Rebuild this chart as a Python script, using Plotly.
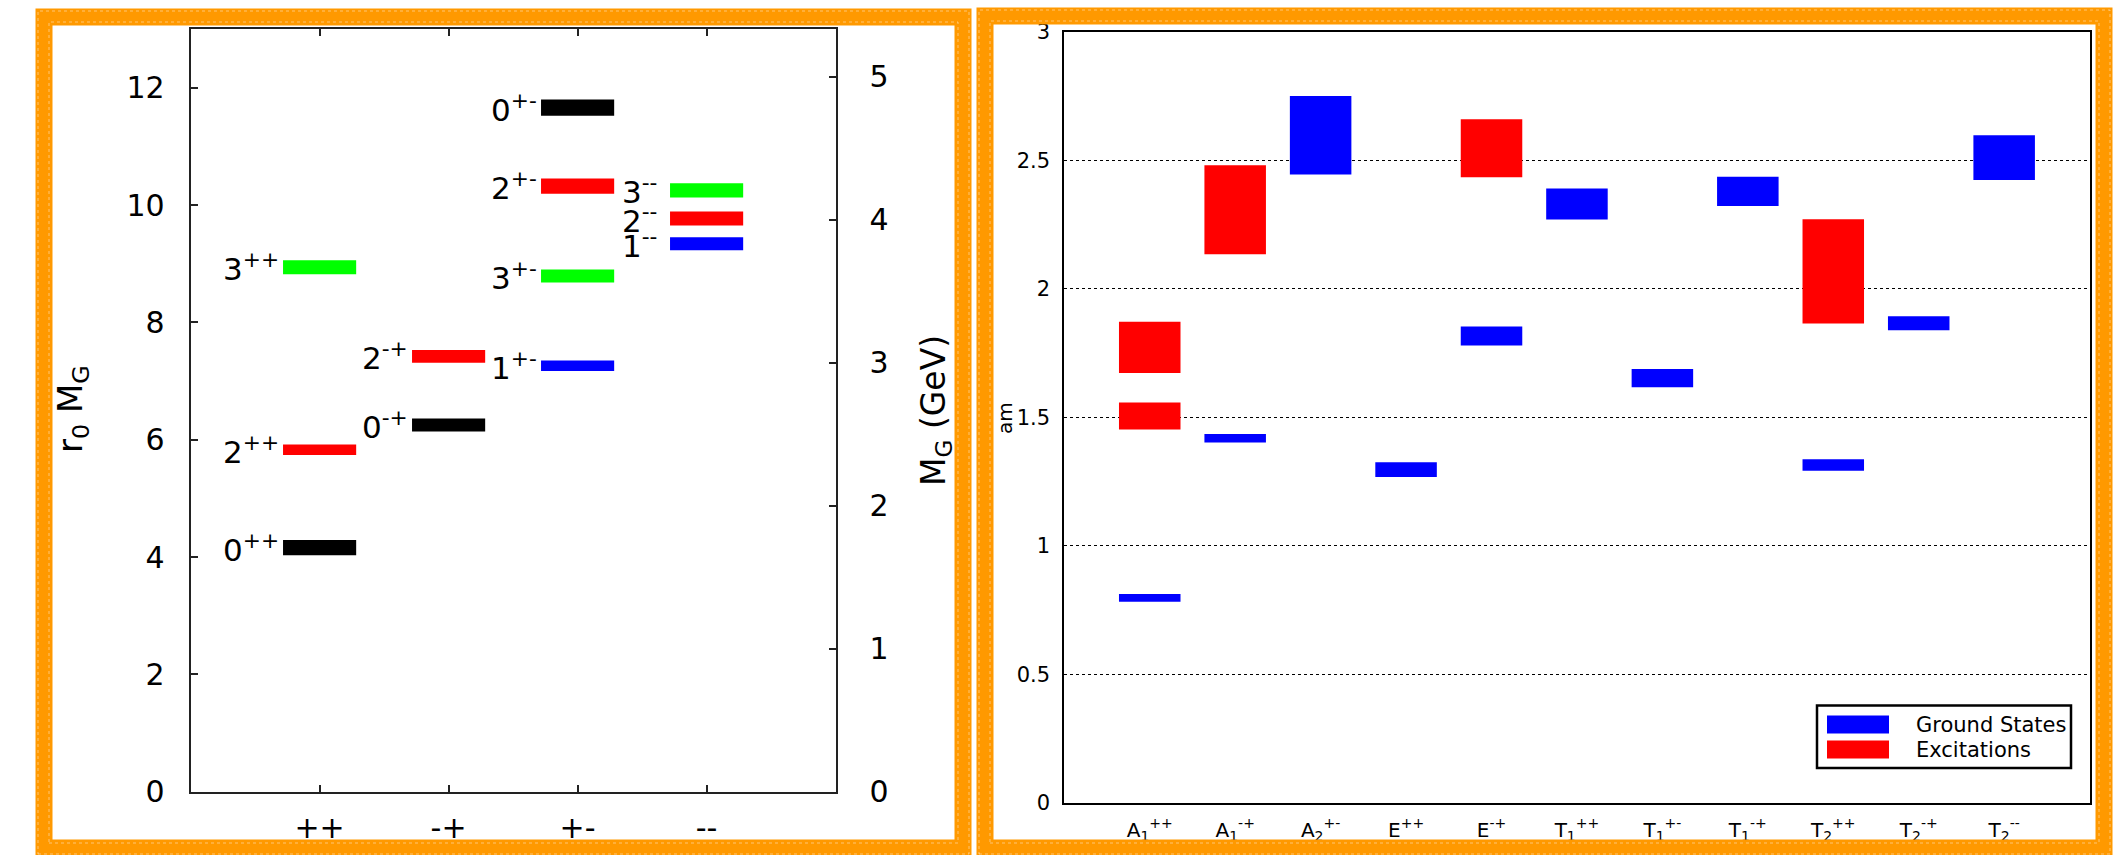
import plotly.graph_objects as go

W, H = 2125, 855
FONT = "DejaVu Sans, Verdana, sans-serif"

# ---------------- left panel data: r0*M_G per J^PC ----------------
pc_columns = ["++", "-+", "+-", "--"]
state_labels = ["0<sup>++</sup>", "2<sup>++</sup>", "3<sup>++</sup>",
                "0<sup>-+</sup>", "2<sup>-+</sup>",
                "0<sup>+-</sup>", "2<sup>+-</sup>", "3<sup>+-</sup>", "1<sup>+-</sup>",
                "3<sup>--</sup>", "2<sup>--</sup>", "1<sup>--</sup>"]
state_column = [1, 1, 1, 2, 2, 3, 3, 3, 3, 4, 4, 4]
state_spin = [0, 2, 3, 0, 2, 0, 2, 3, 1, 3, 2, 1]
state_mass = [4.16, 5.83, 8.94, 6.25, 7.42, 11.66, 10.32, 8.79, 7.26, 10.25, 9.77, 9.34]
state_err = [0.13, 0.09, 0.12, 0.11, 0.11, 0.14, 0.13, 0.11, 0.09, 0.12, 0.12, 0.11]
spin_colors = ["#000000", "#0000FF", "#FF0000", "#00FF00"]
r0_per_gev = 2.438   # r0*M_G units per GeV (right axis)
left_ymax = 13

# ---------------- right panel data: am per lattice channel ----------------
channels = ["A<sub>1</sub><sup>++</sup>", "A<sub>1</sub><sup>-+</sup>", "A<sub>2</sub><sup>+-</sup>",
            "E<sup>++</sup>", "E<sup>-+</sup>",
            "T<sub>1</sub><sup>++</sup>", "T<sub>1</sub><sup>+-</sup>", "T<sub>1</sub><sup>-+</sup>",
            "T<sub>2</sub><sup>++</sup>", "T<sub>2</sub><sup>-+</sup>", "T<sub>2</sub><sup>--</sup>"]
ground_low = [0.782, 1.402, 2.445, 1.268, 1.780, 2.270, 1.617, 2.323, 1.292, 1.839, 2.424]
ground_high = [0.812, 1.435, 2.751, 1.325, 1.854, 2.391, 1.688, 2.437, 1.337, 1.894, 2.598]
exc_channel = [1, 1, 2, 5, 9]
exc_low = [1.453, 1.673, 2.135, 2.435, 1.865]
exc_high = [1.558, 1.872, 2.481, 2.660, 2.271]
legend_names = ["Ground States", "Excitations"]


def px(x):
    return x / W


def py(y):
    return 1 - y / H


fig = go.Figure()

# left panel bars
fig.add_trace(go.Bar(
    x=state_column,
    y=[2 * e for e in state_err],
    base=[m - e for m, e in zip(state_mass, state_err)],
    width=0.567,
    marker=dict(color=[spin_colors[s] for s in state_spin], line=dict(width=0)),
    xaxis="x", yaxis="y", showlegend=False, hoverinfo="skip",
))
# dummy trace so the GeV axis is drawn
fig.add_trace(go.Scatter(x=[None], y=[None], xaxis="x", yaxis="y2",
                         showlegend=False, hoverinfo="skip"))

# right panel bars
ch_pos = list(range(1, len(channels) + 1))
fig.add_trace(go.Bar(
    x=ch_pos,
    y=[h - l for l, h in zip(ground_low, ground_high)],
    base=ground_low, width=0.72,
    marker=dict(color="#0000FF", line=dict(width=0)),
    xaxis="x2", yaxis="y3", showlegend=False, hoverinfo="skip",
))
fig.add_trace(go.Bar(
    x=exc_channel,
    y=[h - l for l, h in zip(exc_low, exc_high)],
    base=exc_low, width=0.72,
    marker=dict(color="#FF0000", line=dict(width=0)),
    xaxis="x2", yaxis="y3", showlegend=False, hoverinfo="skip",
))

annotations = []
# state labels
for lab, col, m in zip(state_labels, state_column, state_mass):
    annotations.append(dict(
        x=col - 0.2835, y=m, xref="x", yref="y", text=lab, showarrow=False,
        xanchor="right", yanchor="middle", xshift=-11 if col == 4 else -2, yshift=0,
        font=dict(size=31, color="black", family=FONT),
    ))

# axis titles
annotations.append(dict(x=px(72), y=py(409), xref="paper", yref="paper",
                        text="r<sub>0</sub> M<sub>G</sub>", textangle=-90, showarrow=False,
                        xanchor="center", yanchor="middle",
                        font=dict(size=34, color="black", family=FONT)))
annotations.append(dict(x=px(936), y=py(411), xref="paper", yref="paper",
                        text="M<sub>G</sub> (GeV)", textangle=-90, showarrow=False,
                        xanchor="center", yanchor="middle",
                        font=dict(size=33, color="black", family=FONT)))
annotations.append(dict(x=px(1005), y=py(418), xref="paper", yref="paper",
                        text="am", textangle=-90, showarrow=False,
                        xanchor="center", yanchor="middle",
                        font=dict(size=20, color="black", family=FONT)))

# legend texts
annotations.append(dict(x=px(1914), y=py(724.5), xref="paper", yref="paper",
                        text=legend_names[0], showarrow=False, xanchor="left", yanchor="middle",
                        font=dict(size=21, color="black", family=FONT)))
annotations.append(dict(x=px(1914), y=py(749.5), xref="paper", yref="paper",
                        text=legend_names[1], showarrow=False, xanchor="left", yanchor="middle",
                        font=dict(size=21, color="black", family=FONT)))

shapes = []
# legend box and swatches
shapes.append(dict(type="rect", xref="paper", yref="paper",
                   x0=px(1817), x1=px(2071), y0=py(768), y1=py(705.5),
                   line=dict(color="black", width=2.5), fillcolor="white"))
shapes.append(dict(type="rect", xref="paper", yref="paper",
                   x0=px(1827), x1=px(1889), y0=py(733.5), y1=py(715.5),
                   line=dict(width=0), fillcolor="#0000FF"))
shapes.append(dict(type="rect", xref="paper", yref="paper",
                   x0=px(1827), x1=px(1889), y0=py(758.5), y1=py(740.5),
                   line=dict(width=0), fillcolor="#FF0000"))

# orange hand-drawn-like frames
for (a, b, c, d) in [(44, 963, 17, 848), (985, 2104, 16, 848)]:
    shapes.append(dict(type="rect", xref="paper", yref="paper",
                       x0=px(a), x1=px(b), y0=py(d), y1=py(c),
                       line=dict(color="#FF9900", width=17), layer="above"))
    for off in (-6, 5):
        shapes.append(dict(type="rect", xref="paper", yref="paper",
                           x0=px(a + off), x1=px(b - off), y0=py(d - off), y1=py(c + off),
                           line=dict(color="rgba(255,255,255,0.45)", width=1, dash="dot"),
                           layer="above"))

axis_line = dict(showline=True, linecolor="#222222", linewidth=2, showgrid=False,
                 zeroline=False, automargin=False)

fig.update_layout(
    template="none",
    width=W, height=H,
    margin=dict(l=0, r=0, t=0, b=0, pad=0),
    paper_bgcolor="white", plot_bgcolor="white",
    barmode="overlay",
    showlegend=False,
    font=dict(family=FONT, color="black"),
    xaxis=dict(domain=[px(190.6), px(835.6)], range=[0, 5], anchor="y",
               tickmode="array", tickvals=[1, 2, 3, 4], ticktext=pc_columns,
               ticks="inside", ticklen=7, tickcolor="#222222", tickwidth=1.5,
               mirror="ticks", tickfont=dict(size=30), ticklabelstandoff=8,
               **axis_line),
    yaxis=dict(domain=[py(791.7), py(29)], range=[0, left_ymax], anchor="x",
               dtick=2, ticks="inside", ticklen=7, tickcolor="#222222", tickwidth=1.5,
               tickfont=dict(size=30), ticklabelstandoff=18, **axis_line),
    yaxis2=dict(overlaying="y", side="right", anchor="x",
                range=[0, left_ymax / r0_per_gev], dtick=1,
                ticks="inside", ticklen=7, tickcolor="#222222", tickwidth=1.5,
                tickfont=dict(size=30), ticklabelstandoff=26, **axis_line),
    xaxis2=dict(domain=[px(1064.3), px(2089.6)], range=[0, 12], anchor="y3",
                tickmode="array", tickvals=ch_pos, ticktext=channels,
                ticks="", mirror=True, tickfont=dict(size=20), ticklabelstandoff=8,
                showline=True, linecolor="black", linewidth=2, showgrid=False,
                zeroline=False, automargin=False),
    yaxis3=dict(domain=[py(802.7), py(32)], range=[0, 3], anchor="x2", dtick=0.5,
                ticks="", mirror=True, tickfont=dict(size=21), ticklabelstandoff=8,
                showline=True, linecolor="black", linewidth=2,
                showgrid=True, gridcolor="black", gridwidth=1.3, griddash="dot",
                zeroline=False, automargin=False),
    annotations=annotations,
    shapes=shapes,
)

fig.write_html("out.html",
               config={"displayModeBar": False},
               post_script="document.body.style.margin='0px';document.body.style.overflow='hidden';")
